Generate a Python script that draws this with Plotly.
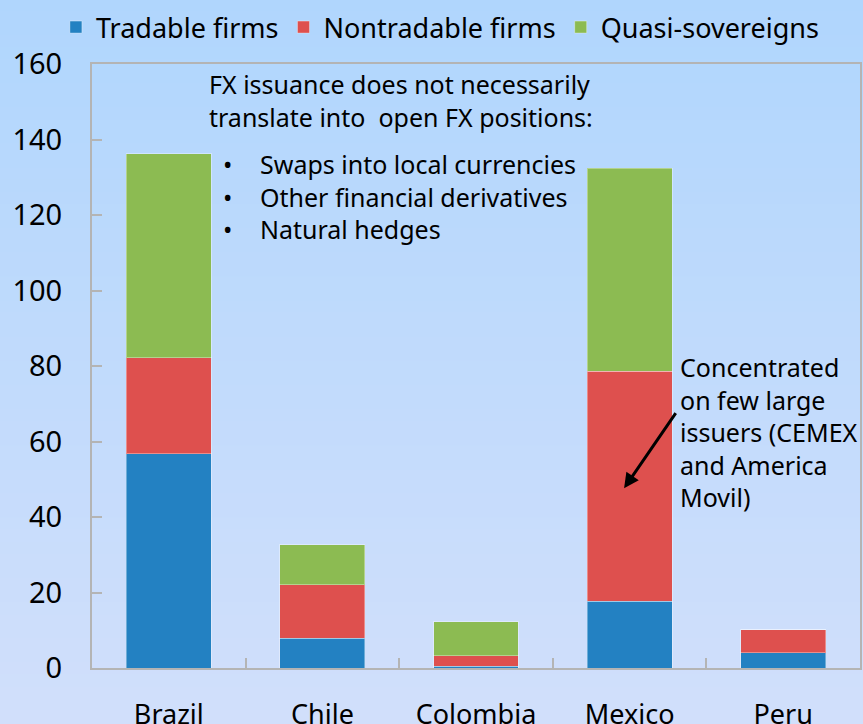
import plotly.graph_objects as go

countries = ["Brazil", "Chile", "Colombia", "Mexico", "Peru"]
tradable = [56.7, 7.9, 0.5, 17.7, 4.0]
nontradable = [25.5, 14.2, 2.7, 60.9, 6.1]
quasi = [54.0, 10.5, 9.0, 53.8, 0.0]
y_ticks = [0, 20, 40, 60, 80, 100, 120, 140, 160]

FONT = "Noto Sans"
W, H = 863, 724
L, R, T, B = 92, 3, 64, 56

fig = go.Figure()
series = [("Tradable firms", tradable, "#2381C2"),
          ("Nontradable firms", nontradable, "#DE504E"),
          ("Quasi-sovereigns", quasi, "#8CBB52")]
for name, vals, col in series:
    fig.add_trace(go.Bar(x=countries, y=vals, name=name,
                         marker=dict(color=col, line=dict(color="rgba(255,255,255,0.35)", width=1)),
                         width=0.553))

# gradient background bands
pw, ph = W - L - R, H - T - B
x0p, x1p = -L / pw, 1 + R / pw
ytop, ybot = 1 + T / ph, -B / ph
top_c = (176, 214, 253)
bot_c = (209, 223, 251)
n = 60
shapes = []
for i in range(n):
    f = i / (n - 1)
    c = tuple(round(top_c[k] + (bot_c[k] - top_c[k]) * f) for k in range(3))
    ya = ytop - (ytop - ybot) * i / n
    yb = ytop - (ytop - ybot) * (i + 1) / n
    shapes.append(dict(type="rect", xref="paper", yref="paper", x0=x0p, x1=x1p,
                       y0=yb - 0.002, y1=ya + 0.002, fillcolor="rgb(%d,%d,%d)" % c,
                       line=dict(width=0), layer="below"))

fig.update_layout(
    width=W, height=H,
    margin=dict(l=L, r=R, t=T, b=B, autoexpand=False),
    barmode="stack",
    paper_bgcolor="rgb(195,219,252)",
    plot_bgcolor="rgba(0,0,0,0)",
    font=dict(family=FONT, size=25, color="black"),
    shapes=shapes,
    showlegend=True,
    legend=dict(orientation="h", x=0.453, xanchor="center", y=1 + (T - 3) / ph, yanchor="top",
                xref="paper", yref="paper", font=dict(size=27),
                bgcolor="rgba(0,0,0,0)", traceorder="normal", itemwidth=30),
    xaxis=dict(showline=True, linecolor="#B4B4B4", linewidth=2, mirror=True,
               ticks="inside", tickson="boundaries", ticklen=10, tickcolor="#B4B4B4",
               tickwidth=2, tickfont=dict(size=27), ticklabelstandoff=22,
               showgrid=False, zeroline=False),
    yaxis=dict(range=[0, 160], tickvals=y_ticks, showline=True, linecolor="#B4B4B4",
               linewidth=2, mirror=True, ticks="inside", ticklen=10, tickcolor="#B4B4B4",
               tickwidth=2, tickfont=dict(size=29), ticklabelstandoff=22,
               showgrid=False, zeroline=False),
)

def px(xpage):
    return (xpage - L) / pw

def py(ypage):
    return (H - B - ypage) / ph

fig.add_annotation(xref="paper", yref="paper", x=px(207), y=py(65), xanchor="left", yanchor="top",
                   align="left", showarrow=False,
                   text="FX issuance does not necessarily<br>translate into&nbsp; open FX positions:",
                   font=dict(size=25))
fig.add_annotation(xref="paper", yref="paper", x=px(221), y=py(145), xanchor="left", yanchor="top",
                   align="left", showarrow=False, text="•<br>•<br>•", font=dict(size=25))
fig.add_annotation(xref="paper", yref="paper", x=px(258), y=py(145), xanchor="left", yanchor="top",
                   align="left", showarrow=False,
                   text="Swaps into local currencies<br>Other financial derivatives<br>Natural hedges",
                   font=dict(size=25))
fig.add_annotation(xref="paper", yref="paper", x=px(678), y=py(348), xanchor="left", yanchor="top",
                   align="left", showarrow=False,
                   text="Concentrated<br>on few large<br>issuers (CEMEX<br>and America<br>Movil)",
                   font=dict(size=25))
fig.add_annotation(xref="x", yref="y", axref="x", ayref="y",
                   x=2.964, y=47.6, ax=3.307, ay=67.9, text="", showarrow=True,
                   arrowhead=2, arrowsize=1, arrowwidth=3, arrowcolor="black")

fig.write_html("out.html", config={"displayModeBar": False},
               post_script="document.body.style.margin='0';document.body.style.overflow='hidden';")
